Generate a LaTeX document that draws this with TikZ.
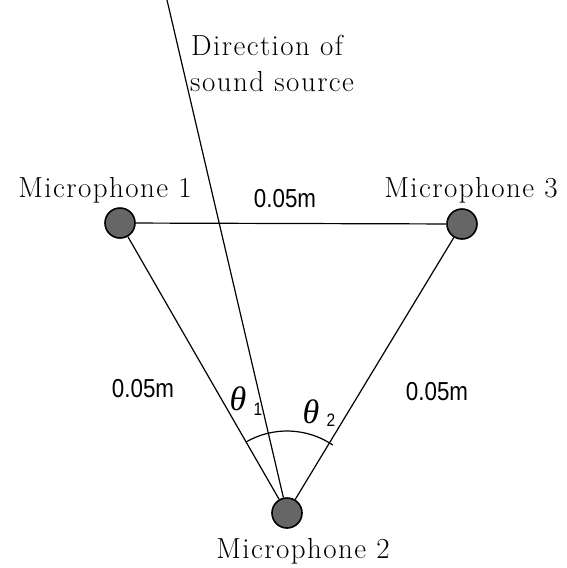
\documentclass[tikz,border=0pt]{standalone}
\usepackage{fontspec}
\usetikzlibrary{calc}
\setmainfont{Latin Modern Roman}[LetterSpace=5]
\newfontfamily\sansf{Liberation Sans}[FakeStretch=0.86]
\newfontfamily\grk{Liberation Serif}
\begin{document}
\begin{tikzpicture}[x=1pt,y=-1pt,
  mic/.style={circle,draw=black,line width=1.6pt,fill=black!60,minimum size=30pt,inner sep=0pt},
  lbl/.style={font=\fontsize{29}{34}\selectfont,inner sep=0pt},
  dist/.style={font=\sansf\fontsize{26}{30}\selectfont,inner sep=0pt},
  subn/.style={font=\sansf\fontsize{18}{20}\selectfont,inner sep=0pt},
  ang/.style={font=\grk\itshape\fontsize{34}{36}\selectfont,inner sep=0pt},
  edge/.style={line width=1.2pt}]
\useasboundingbox (0,0) rectangle (567,568);
\node[mic] (m1) at (120,223) {};
\node[mic] (m3) at (462,224) {};
\node[mic] (m2) at (287,513) {};
\coordinate (top) at (167,0);
\draw[edge] (m1) -- (m3);
\draw[edge] (m1) -- (m2);
\draw[edge] (m3) -- (m2);
\draw[edge] (top) -- (m2);
\draw[edge] ($(m2)+(240:82)$) arc[start angle=240,end angle=304,radius=82];
\node[lbl,anchor=base west] (d1) at (191,55) {Direction of};
\node[lbl,anchor=base west] (d2) at (190,91) {sound source};
\node[lbl,anchor=base] (l1) at (105,197) {Microphone 1};
\node[lbl,anchor=base] (l3) at (471,197) {Microphone 3};
\node[lbl,anchor=base] (l2) at (303,558) {Microphone 2};
\node[dist] (a) at (285,199) {0.05m};
\node[dist] (b) at (143,389) {0.05m};
\node[dist] (c) at (437,392) {0.05m};
\node[ang] (t1) at (238,399) {θ};
\node[subn] (s1) at (258,409) {1};
\node[ang] (t2) at (311,412) {θ};
\node[subn] (s2) at (331,420) {2};
\end{tikzpicture}
\end{document}
